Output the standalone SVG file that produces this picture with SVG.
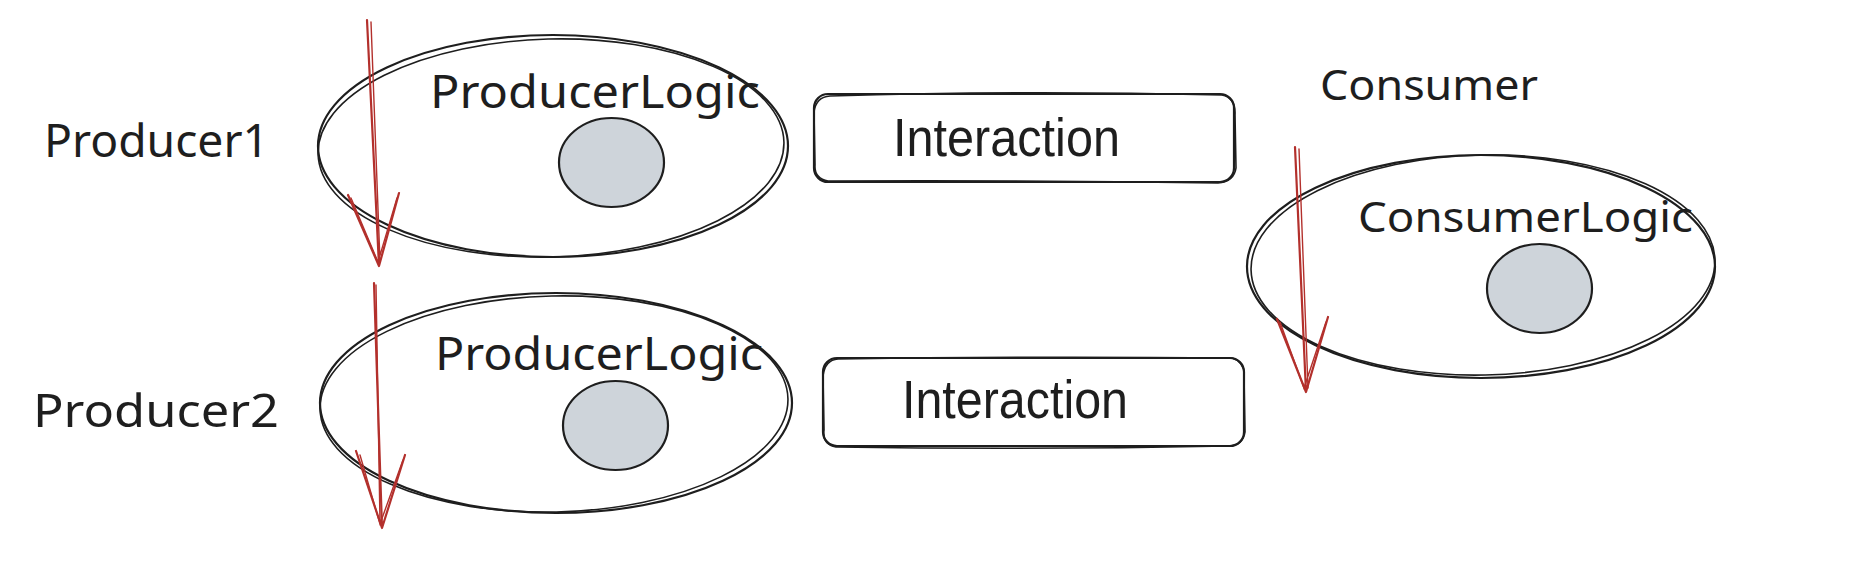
<svg xmlns="http://www.w3.org/2000/svg" width="1853" height="572" viewBox="0 0 1853 572">
<style>
.sk{fill:none;stroke:#1e1e1e;stroke-width:2.2;stroke-linecap:round;stroke-linejoin:round}
.sk2{fill:none;stroke:#1e1e1e;stroke-width:1.6;stroke-linecap:round}
.hand{font-family:"Noto Sans","DejaVu Sans",sans-serif;font-size:42px;fill:#1e1e1e}
.big{font-size:46px}
.lbl{font-family:"Liberation Sans",Arial,sans-serif;font-size:53px;fill:#1e1e1e}
.dot{fill:#ced4da;stroke:#1e1e1e;stroke-width:2.2}
.ar{fill:none;stroke:#b3302c;stroke-width:2.2;stroke-linecap:round;stroke-linejoin:round}
.ar2{fill:none;stroke:#b3302c;stroke-width:1.4;stroke-linecap:round}
</style>
<rect width="1853" height="572" fill="#ffffff"/>

<g id="producer1-label"><text class="hand big" x="44" y="157" textLength="225" lengthAdjust="spacingAndGlyphs">Producer1</text></g>
<g id="producer2-label"><text class="hand big" x="33" y="427" textLength="246" lengthAdjust="spacingAndGlyphs">Producer2</text></g>
<g id="consumer-label"><text class="hand" x="1320" y="100" textLength="218" lengthAdjust="spacingAndGlyphs">Consumer</text></g>

<g id="producer1-logic">
  <ellipse class="sk" cx="553" cy="146" rx="235" ry="111"/>
  <ellipse class="sk2" cx="551" cy="148" rx="233" ry="109" transform="rotate(-1.5 551 148)"/>
  <text class="hand big" x="430" y="108" textLength="330" lengthAdjust="spacingAndGlyphs">ProducerLogic</text>
  <ellipse class="dot" cx="611.5" cy="162.5" rx="52.5" ry="44.5"/>
</g>

<g id="producer2-logic">
  <ellipse class="sk" cx="556" cy="403" rx="236" ry="110"/>
  <ellipse class="sk2" cx="554" cy="404" rx="234" ry="108" transform="rotate(-1.3 554 404)"/>
  <text class="hand big" x="435" y="370" textLength="328" lengthAdjust="spacingAndGlyphs">ProducerLogic</text>
  <ellipse class="dot" cx="615.5" cy="425.5" rx="52.5" ry="44.5"/>
</g>

<g id="consumer-logic">
  <ellipse class="sk" cx="1481" cy="266.5" rx="234" ry="111.5"/>
  <ellipse class="sk2" cx="1483" cy="265" rx="232" ry="110" transform="rotate(-1.2 1483 265)"/>
  <text class="hand" x="1358" y="232" textLength="335" lengthAdjust="spacingAndGlyphs">ConsumerLogic</text>
  <ellipse class="dot" cx="1539.5" cy="288.5" rx="52.5" ry="44.5"/>
</g>

<g id="interaction1">
  <rect class="sk" x="814" y="94" width="420" height="88" rx="14"/>
  <path class="sk2" d="M830 96 Q1020 90 1222 95 Q1236 98 1235 115 L1236 168 Q1234 182 1218 183 Q1020 180 828 181 Q814 178 815 165 L814 112 Q816 97 830 96"/>
  <text class="lbl" x="893" y="156" textLength="227" lengthAdjust="spacingAndGlyphs">Interaction</text>
</g>

<g id="interaction2">
  <rect class="sk" x="823" y="358" width="421" height="88" rx="14"/>
  <path class="sk2" d="M838 359 Q1030 356 1232 358 Q1245 362 1244 376 L1245 432 Q1243 446 1228 446 Q1030 450 836 447 Q822 444 824 430 L823 376 Q825 360 838 359"/>
  <text class="lbl" x="902" y="418" textLength="226" lengthAdjust="spacingAndGlyphs">Interaction</text>
</g>

<g id="connectors">
  <path class="ar" d="M367 20 L379 266 M348 195 L379 266 L399 193"/>
  <path class="ar2" d="M371 22 L380 262 M351 198 L378 262 L397 198"/>
  <path class="ar" d="M374 283 L382 528 M356 451 L382 528 L405 455"/>
  <path class="ar2" d="M376 285 L380 524 M360 455 L380 524 L403 460"/>
  <path class="ar" d="M1295 147 L1306 392 M1277 319 L1306 392 L1328 317"/>
  <path class="ar2" d="M1299 149 L1308 388 M1280 322 L1304 388 L1326 322"/>
</g>
</svg>
